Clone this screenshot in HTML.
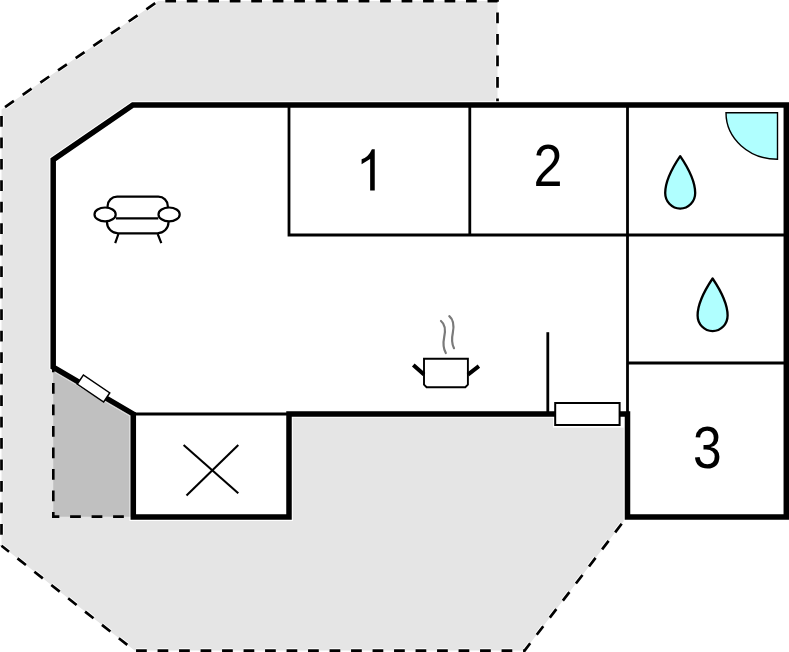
<!DOCTYPE html>
<html><head><meta charset="utf-8"><title>Floor plan</title>
<style>
html,body{margin:0;padding:0;background:#fff;}
svg{display:block;}
text{font-family:"Liberation Sans",sans-serif;}
</style></head>
<body>
<svg width="789" height="652" viewBox="0 0 789 652">
<!-- outer terrace (light gray) -->
<path d="M158.2,1.1 H497.5 V110 H627.5 V519.65 L624.85,519.65 L524.6,650.6 H134.6 L1.5,545.8 V109.5 Z" fill="#e5e5e5"/>
<g fill="none">
<path d="M497.5,104.7 V1.1 H158.2 L1.5,109.5 V545.8" stroke="#fff" stroke-width="4.5" stroke-dasharray="10.74 10.74" stroke-dashoffset="4.54"/>
<path d="M1.5,545.8 L134.6,650.6 H524.6 L624.85,519.65" stroke="#fff" stroke-width="4.5" stroke-dasharray="10.75 10.75" stroke-dashoffset="1.14"/>
<path d="M497.5,104.7 V1.1 H158.2 L1.5,109.5 V545.8" stroke="#000" stroke-width="2.7" stroke-dasharray="10.74 10.74" stroke-dashoffset="4.54"/>
<path d="M1.5,545.8 L134.6,650.6 H524.6 L624.85,519.65" stroke="#000" stroke-width="2.7" stroke-dasharray="10.75 10.75" stroke-dashoffset="1.14"/>
</g>
<!-- dark gray area -->
<path d="M53.2,367.1 L133.3,414 V516.7 H53.3 Z" fill="#c0c0c0"/>
<!-- building interior -->
<path d="M133.3,414 L53.2,367.1 V159.7 L132.85,105 H786.3 V517.1 H627.5 V414 H289 V517.1 H133.3 Z" fill="#fff" stroke="#fff" stroke-width="7.7" stroke-linejoin="miter"/>
<clipPath id="dg"><path d="M53.2,367.1 L133.3,414 V516.7 H53.3 Z"/></clipPath>
<path d="M53.2,367.1 L133.3,414 V517.1" fill="none" stroke="#d6d6d6" stroke-width="7.7" clip-path="url(#dg)"/>
<path d="M53.3,361.4 V516.6 H133.2" fill="none" stroke="#000" stroke-width="2.6" stroke-dasharray="10.75 10.75"/>
<!-- thin interior lines -->
<g stroke="#000" stroke-width="2.8" fill="none">
<path d="M289,105 V235 H786"/>
<path d="M469.8,105 V235"/>
<path d="M627.5,105 V414"/>
<path d="M627.5,363 H786"/>
<path d="M547.8,332.2 V414"/>
<path d="M133.3,414 H289"/>
</g>
<!-- thick walls -->
<rect x="553" y="401" width="71.5" height="26.6" fill="#fff"/>
<path d="M133.3,414 L53.2,367.1 V159.7 L132.85,105 H786.3 V517.1 H627.5 V414 H289 V517.1 H133.3 Z" fill="none" stroke="#000" stroke-width="5.5" stroke-linejoin="miter" stroke-miterlimit="10"/>
<!-- windows -->
<rect x="555.2" y="403" width="64.4" height="22" fill="#fff" stroke="#000" stroke-width="2"/>
<rect x="-15.9" y="-5.5" width="31.8" height="11" transform="translate(93.5 388.5) rotate(34)" fill="#fff" stroke="#000" stroke-width="1.5"/>
<!-- shower -->
<path d="M777.5,112.8 H726 A51.5 46.5 0 0 0 777.5,159.3 Z" fill="#b0ffff" stroke="#000" stroke-width="1.4" stroke-linejoin="miter"/>
<!-- drops -->
<path d="M680.2,156.1 C673,166.7 665.2,180 665.2,193 A15 15.6 0 0 0 695.2,193 C695.2,180 687.4,166.7 680.2,156.1 Z" fill="#b0ffff" stroke="#000" stroke-width="2.3" stroke-linejoin="round"/>
<path d="M712.6,278.5 C705.4,289.2 697.6,302.5 697.6,315.5 A15 15.6 0 0 0 727.6,315.5 C727.6,302.5 719.8,289.2 712.6,278.5 Z" fill="#b0ffff" stroke="#000" stroke-width="2.3" stroke-linejoin="round"/>
<!-- X -->
<g stroke="#000" stroke-width="2.1">
<line x1="183.6" y1="445" x2="238.3" y2="493.3"/>
<line x1="238.3" y1="445" x2="186.5" y2="495.6"/>
</g>
<!-- armchair -->
<g fill="none" stroke="#000" stroke-width="2.2">
<path d="M107.6,207.5 V206 A9.5 9.5 0 0 1 117.1,196.6 H158.3 A9.5 9.5 0 0 1 167.8,206 V207.5"/>
<ellipse cx="105.1" cy="214.4" rx="10.6" ry="6.9"/>
<ellipse cx="169.1" cy="214.4" rx="10.6" ry="6.9"/>
<path d="M115.9,218.4 H158.3"/>
<path d="M107,221 V222.3 A11 11 0 0 0 118,233.3 H157.5 A11 11 0 0 0 168.5,222.3 V221"/>
<path d="M118.4,234 L115.2,243.1 M157.7,234 L161.3,243.1"/>
</g>
<!-- pot -->
<g fill="none">
<path d="M441,321 C446,325 445.5,331 444.2,337 C443,343 443,348 445.8,353" stroke="#7a7a7a" stroke-width="2.2" stroke-linecap="round"/>
<path d="M449.3,316.1 C454,320 454,327 452.8,333 C451.5,339 451.8,344 454,348.2" stroke="#7a7a7a" stroke-width="2.2" stroke-linecap="round"/>
<path d="M424,358.8 H467.9 V384.6 L465.3,387.2 H426.6 L424,384.6 Z" fill="#fff" stroke="#000" stroke-width="1.9"/>
<path d="M413.3,365 L424,374.6 M478.9,366.1 L467.9,374.6" stroke="#000" stroke-width="4"/>
</g>
<!-- labels -->
<path d="M374.74,149.2 V190.6 H370.15 V159 L361.6,164.2 V159.35 Q368.5,157 371.9,149.2 Z" fill="#000"/>
<text transform="translate(533.4 185.8) scale(0.87 1)" font-size="60">2</text>
<text transform="translate(692.9 467.5) scale(0.86 1)" font-size="60">3</text>
</svg>
</body></html>
